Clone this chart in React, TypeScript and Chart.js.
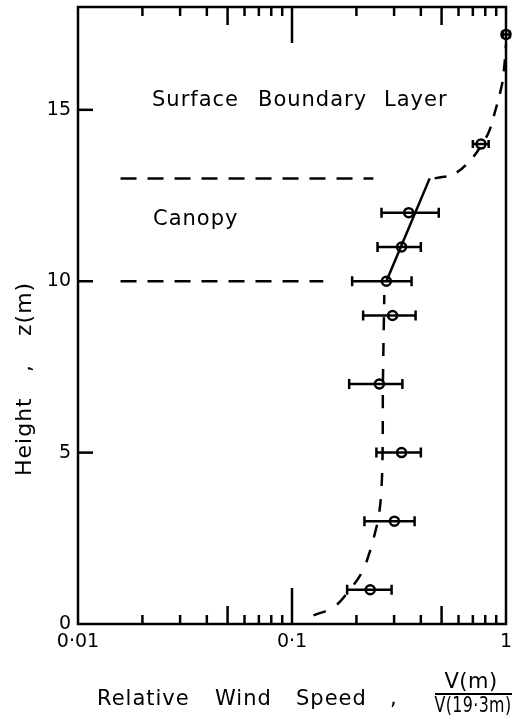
import React, { useEffect, useRef } from "react";
import { Chart, registerables } from "chart.js";

Chart.register(...registerables);

// ---- data ----
const HEIGHTS = [17.2, 14.0, 12.0, 11.0, 10.0, 9.0, 7.0, 5.0, 3.0, 1.0];
const SPEEDS = [1.0, 0.764, 0.351, 0.325, 0.276, 0.295, 0.256, 0.325, 0.301, 0.232];
const SPEED_LOW = [0.965, 0.7, 0.262, 0.251, 0.191, 0.215, 0.185, 0.248, 0.218, 0.181];
const SPEED_HIGH = [1.04, 0.83, 0.485, 0.4, 0.362, 0.378, 0.328, 0.4, 0.374, 0.292];

const CANOPY_LINE_V = [0.276, 0.44];
const CANOPY_LINE_Z = [10, 13];

const UPPER_CURVE_V = [0.464, 0.576, 0.692, 0.764, 0.832, 0.888, 0.957, 0.979, 1.0];
const UPPER_CURVE_Z = [13.0, 13.14, 13.58, 13.95, 14.36, 14.94, 15.73, 16.19, 16.9];

const LOWER_CURVE_V = [0.126, 0.157, 0.186, 0.212, 0.228, 0.243, 0.255, 0.262, 0.265, 0.266, 0.27];
const LOWER_CURVE_Z = [0.25, 0.5, 1.0, 1.5, 2.0, 2.6, 3.2, 4.0, 5.0, 7.0, 9.6];

const CANOPY_TOP_V = [0.0158, 0.24];
const CANOPY_TOP_Z = [13, 13];
const CANOPY_BASE_V = [0.0158, 0.14];
const CANOPY_BASE_Z = [10, 10];

const X_TICKS = [0.01, 0.1, 1];
const X_TICK_LABELS = ["0·01", "0·1", "1"];
const Y_TICKS = [0, 5, 10, 15];
const Y_TICK_LABELS = ["0", "5", "10", "15"];

const X_MINOR_TICKS = [0.02, 0.03, 0.04, 0.06, 0.07, 0.08, 0.09, 0.2, 0.3, 0.4, 0.6, 0.7, 0.8, 0.9];
const X_MID_TICKS = [0.05, 0.5];
const X_MAJOR_TICKS = [0.1];
const Y_INNER_TICKS = [5, 10, 15];

const FONT = "'DejaVu Sans', sans-serif";
const LW = 2.5;

const pairs = (xs: number[], ys: number[]) => xs.map((x, i) => ({ x, y: ys[i] }));

const decorPlugin = {
  id: "decor",
  beforeDatasetsDraw(chart: any) {
    const { ctx, scales } = chart;
    const xs = scales.x;
    const ys = scales.y;
    ctx.save();
    ctx.strokeStyle = "#000";
    ctx.lineWidth = LW;
    HEIGHTS.forEach((h, i) => {
      const y = ys.getPixelForValue(h);
      const x1 = xs.getPixelForValue(SPEED_LOW[i]);
      const x2 = xs.getPixelForValue(SPEED_HIGH[i]);
      const cap = i < 2 ? 4 : 5;
      ctx.beginPath();
      ctx.moveTo(x1, y);
      ctx.lineTo(x2, y);
      ctx.moveTo(x1, y - cap);
      ctx.lineTo(x1, y + cap);
      ctx.moveTo(x2, y - cap);
      ctx.lineTo(x2, y + cap);
      ctx.stroke();
    });
    ctx.restore();
  },
  afterDraw(chart: any) {
    const { ctx, chartArea, scales } = chart;
    const xs = scales.x;
    const ys = scales.y;
    const { left, right, top, bottom } = chartArea;
    ctx.save();
    ctx.strokeStyle = "#000";
    ctx.fillStyle = "#000";
    ctx.lineWidth = LW;
    ctx.strokeRect(left, top, right - left, bottom - top);

    const xTick = (vals: number[], len: number) => {
      vals.forEach((v) => {
        const x = xs.getPixelForValue(v);
        ctx.beginPath();
        ctx.moveTo(x, top);
        ctx.lineTo(x, top + len);
        ctx.moveTo(x, bottom);
        ctx.lineTo(x, bottom - len);
        ctx.stroke();
      });
    };
    xTick(X_MINOR_TICKS, 9);
    xTick(X_MID_TICKS, 18);
    xTick(X_MAJOR_TICKS, 36);
    Y_INNER_TICKS.forEach((v) => {
      const y = ys.getPixelForValue(v);
      ctx.beginPath();
      ctx.moveTo(left, y);
      ctx.lineTo(left + 15, y);
      ctx.stroke();
    });

    const c: any = ctx;
    const words = (list: [string, number][], y: number) => {
      list.forEach(([w, x]) => ctx.fillText(w, x, y));
    };
    ctx.textBaseline = "alphabetic";
    ctx.textAlign = "left";

    // annotations
    ctx.font = `21px ${FONT}`;
    c.letterSpacing = "1px";
    words(
      [
        ["Surface", 152],
        ["Boundary", 258],
        ["Layer", 384],
      ],
      106
    );
    words([["Canopy", 153]], 225);

    // x title
    ctx.font = `21px ${FONT}`;
    c.letterSpacing = "1px";
    words(
      [
        ["Relative", 97],
        ["Wind", 215],
        ["Speed", 296],
        [",", 390],
      ],
      705
    );
    // fraction
    c.letterSpacing = "0.5px";
    ctx.textAlign = "center";
    ctx.fillText("V(m)", 471, 688, 58);
    ctx.fillText("V(19·3m)", 473, 712, 77);
    ctx.lineWidth = 1.8;
    ctx.beginPath();
    ctx.moveTo(435, 694);
    ctx.lineTo(512, 694);
    ctx.stroke();

    // y title
    ctx.textAlign = "left";
    c.letterSpacing = "1px";
    ctx.font = `22px ${FONT}`;
    ctx.translate(31, 476);
    ctx.rotate(-Math.PI / 2);
    ctx.fillText("Height", 0, 0);
    ctx.fillText(",", 104, 0);
    ctx.fillText("z(m)", 140, 0);
    ctx.restore();
  },
};

export default function App() {
  const canvasRef = useRef<HTMLCanvasElement | null>(null);

  useEffect(() => {
    const canvas = canvasRef.current;
    if (!canvas) return;
    const lineBase = {
      type: "scatter" as const,
      showLine: true,
      pointRadius: 0,
      borderColor: "#000",
      borderWidth: LW,
      fill: false,
    };
    const chart = new Chart(canvas, {
      type: "scatter",
      data: {
        datasets: [
          {
            ...lineBase,
            label: "Canopy profile",
            data: pairs(CANOPY_LINE_V, CANOPY_LINE_Z),
          },
          {
            ...lineBase,
            label: "Upper profile",
            data: pairs(UPPER_CURVE_V, UPPER_CURVE_Z),
            borderDash: [12, 11],
            tension: 0.4,
            clip: false,
          } as any,
          {
            ...lineBase,
            label: "Lower profile",
            data: pairs(LOWER_CURVE_V, LOWER_CURVE_Z),
            borderDash: [13, 13],
            tension: 0.4,
          } as any,
          {
            ...lineBase,
            label: "Canopy top",
            data: pairs(CANOPY_TOP_V, CANOPY_TOP_Z),
            borderDash: [16, 11],
          } as any,
          {
            ...lineBase,
            label: "Canopy base",
            data: pairs(CANOPY_BASE_V, CANOPY_BASE_Z),
            borderDash: [16, 11],
          } as any,
          {
            type: "scatter",
            label: "Measured",
            data: pairs(SPEEDS, HEIGHTS),
            pointRadius: 4.5,
            pointBackgroundColor: "rgba(0,0,0,0)",
            pointBorderColor: "#000",
            pointBorderWidth: LW,
            showLine: false,
            clip: false,
          } as any,
        ],
      },
      options: {
        animation: false,
        responsive: false,
        devicePixelRatio: 1,
        layout: { padding: { left: 0, top: 6, right: 22, bottom: 0 } },
        plugins: {
          legend: { display: false },
          tooltip: { enabled: false },
        },
        scales: {
          x: {
            type: "logarithmic",
            position: "bottom",
            min: 0.01,
            max: 1,
            grid: { display: false, drawTicks: false },
            border: { display: false },
            ticks: {
              autoSkip: false,
              maxRotation: 0,
              padding: 7,
              color: "#000",
              font: { family: FONT, size: 19 },
              callback: (_v: any, i: number) => X_TICK_LABELS[i],
            },
            afterBuildTicks: (s: any) => {
              s.ticks = X_TICKS.map((v) => ({ value: v }));
            },
            afterFit: (s: any) => {
              s.height = 103;
              s.paddingLeft = 0;
              s.paddingRight = 0;
            },
          },
          y: {
            type: "linear",
            min: 0,
            max: 18,
            grid: { display: false, drawTicks: false },
            border: { display: false },
            ticks: {
              autoSkip: false,
              padding: 7,
              color: "#000",
              font: { family: FONT, size: 19 },
              callback: (_v: any, i: number) => Y_TICK_LABELS[i],
            },
            afterBuildTicks: (s: any) => {
              s.ticks = Y_TICKS.map((v) => ({ value: v }));
            },
            afterFit: (s: any) => {
              s.width = 78;
              s.paddingTop = 0;
              s.paddingBottom = 0;
            },
          },
        },
      },
      plugins: [decorPlugin],
    });
    return () => chart.destroy();
  }, []);

  return (
    <div style={{ position: "absolute", left: 0, top: 0, width: 528, height: 727, background: "#fff" }}>
      <canvas ref={canvasRef} width={528} height={727} style={{ width: 528, height: 727, display: "block" }} />
    </div>
  );
}
